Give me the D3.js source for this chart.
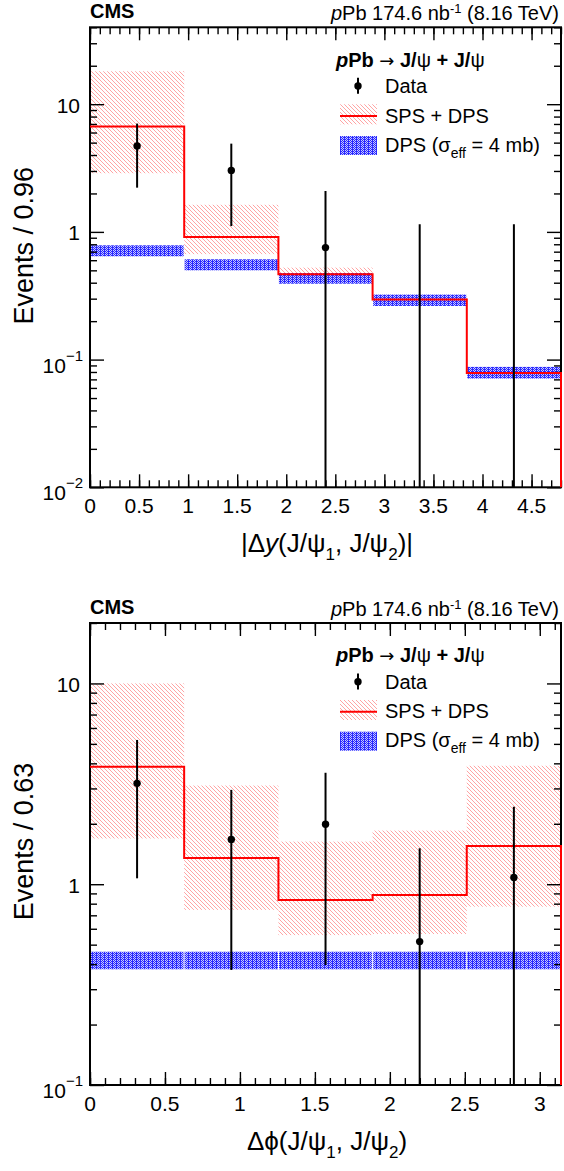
<!DOCTYPE html>
<html><head><meta charset="utf-8">
<script src="https://cdn.jsdelivr.net/npm/d3@7"></script>
<style>
body{margin:0;background:#fff}
text{font-family:"Liberation Sans",Arial,Helvetica,sans-serif;fill:#000}
</style>
</head><body>
<svg id="c" width="564" height="1171"></svg>
<script>
// ---------- data: |Δy| panel ----------
const dyEdges      = [0, 0.96, 1.92, 2.88, 3.84, 4.8];
const dySpsDps     = [6.7, 0.91, 0.466, 0.295, 0.0785];
const dySpsDpsLo   = [2.88, 0.67, 0.45, 0.285, 0.076];
const dySpsDpsHi   = [18.1, 1.63, 0.525, 0.31, 0.083];
const dyDpsLo      = [0.644, 0.50, 0.393, 0.263, 0.0711];
const dyDpsHi      = [0.785, 0.61, 0.476, 0.323, 0.0877];
const dyData       = [4.71, 3.03, 0.753, 0, 0];
const dyDataLo     = [2.22, 1.11, 0, 0, 0];
const dyDataHi     = [7.05, 4.91, 2.09, 1.15, 1.15];
const dyXTicks     = [0, 0.5, 1, 1.5, 2, 2.5, 3, 3.5, 4, 4.5];
const dyXTickLabels= ["0","0.5","1","1.5","2","2.5","3","3.5","4","4.5"];
const dyYDecades   = [0.01, 0.1, 1, 10];

// ---------- data: Δφ panel ----------
const dphiEdges    = [0, 0.628, 1.257, 1.885, 2.513, 3.1416];
const dphiSpsDps   = [3.85, 1.35, 0.834, 0.883, 1.55];
const dphiSpsDpsLo = [1.69, 0.745, 0.558, 0.565, 0.773];
const dphiSpsDpsHi = [10.0, 3.10, 1.63, 1.85, 3.89];
const dphiDpsLo    = [0.377, 0.377, 0.377, 0.377, 0.377];
const dphiDpsHi    = [0.461, 0.461, 0.461, 0.461, 0.461];
const dphiData     = [3.18, 1.67, 1.99, 0.518, 1.08];
const dphiDataLo   = [1.07, 0.374, 0.396, 0, 0];
const dphiDataHi   = [5.23, 2.95, 3.59, 1.51, 2.43];
const dphiXTicks   = [0, 0.5, 1, 1.5, 2, 2.5, 3];
const dphiXTickLabels = ["0","0.5","1","1.5","2","2.5","3"];
const dphiYDecades = [0.1, 1, 10];

const svg = d3.select("#c");
const defs = svg.append("defs");
const hatch = defs.append("pattern").attr("id","hatch")
  .attr("patternUnits","userSpaceOnUse").attr("width",4).attr("height",4);
hatch.append("path").attr("d","M-1,-1 L5,5 M-1,3 L1,5 M3,-1 L5,1")
  .attr("stroke","#ff9a9a").attr("stroke-width",0.9).attr("fill","none");
const dots = defs.append("pattern").attr("id","dots")
  .attr("patternUnits","userSpaceOnUse").attr("width",4).attr("height",2);
dots.append("rect").attr("width",4).attr("height",2).attr("fill","#c6c6ff");
[[0,0,1,2],[2,0,1,1],[1,1,1,1],[3,1,1,1]].forEach(r=>{
  dots.append("rect").attr("x",r[0]).attr("y",r[1]).attr("width",r[2]).attr("height",r[3])
    .attr("fill","#2a2aff").attr("shape-rendering","crispEdges");
});

const L = 90, R = 561;

function panel(cfg){
  const T = cfg.top, B = cfg.bottom;
  const g = svg.append("g");
  const x = d3.scaleLinear().domain([0, cfg.xMax]).range([L, R]);
  const y = d3.scaleLog().domain(cfg.yDomain).range([B, T]);
  const n = cfg.vals.length;
  const idx = d3.range(n);

  // SPS+DPS hatched band
  g.append("g").selectAll("rect").data(idx).join("rect")
    .attr("x", i=>x(cfg.edges[i])).attr("width", i=>x(cfg.edges[i+1])-x(cfg.edges[i]))
    .attr("y", i=>y(cfg.hi[i])).attr("height", i=>y(cfg.lo[i])-y(cfg.hi[i]))
    .attr("fill","url(#hatch)");
  // DPS band
  g.append("g").selectAll("rect").data(idx).join("rect")
    .attr("x", i=>x(cfg.edges[i])+0.5).attr("width", i=>x(cfg.edges[i+1])-x(cfg.edges[i])-1)
    .attr("y", i=>y(cfg.dpsHi[i])).attr("height", i=>y(cfg.dpsLo[i])-y(cfg.dpsHi[i]))
    .attr("fill","url(#dots)");

  // frame
  g.append("rect").attr("x",L).attr("y",T).attr("width",R-L).attr("height",B-T)
    .attr("fill","none").attr("stroke","#000").attr("stroke-width",2);

  // ticks
  const minorX = d3.range(0, Math.round(cfg.xMax*10)+1).map(k=>k/10).filter(v=>v<=cfg.xMax);
  const minorY = [];
  cfg.decades.concat([cfg.decades[cfg.decades.length-1]*10]).forEach(d=>{
    for(let m=2;m<=9;m++){ const v=d*m; if(v>=cfg.yDomain[0] && v<=cfg.yDomain[1]*1.0001) minorY.push(v); }
  });
  function styleAxis(sel){
    sel.select(".domain").remove();
    sel.selectAll("line").attr("stroke","#000").attr("stroke-width",1.4);
    sel.selectAll("text").remove();
  }
  g.append("g").attr("transform",`translate(0,${B})`).call(d3.axisBottom(x).tickValues(cfg.xTicks).tickSize(-13).tickFormat("")).call(styleAxis);
  g.append("g").attr("transform",`translate(0,${B})`).call(d3.axisBottom(x).tickValues(minorX).tickSize(-7).tickFormat("")).call(styleAxis);
  g.append("g").attr("transform",`translate(0,${T})`).call(d3.axisTop(x).tickValues(cfg.xTicks).tickSize(-13).tickFormat("")).call(styleAxis);
  g.append("g").attr("transform",`translate(0,${T})`).call(d3.axisTop(x).tickValues(minorX).tickSize(-7).tickFormat("")).call(styleAxis);
  g.append("g").attr("transform",`translate(${L},0)`).call(d3.axisLeft(y).tickValues(cfg.decades).tickSize(-14).tickFormat("")).call(styleAxis);
  g.append("g").attr("transform",`translate(${L},0)`).call(d3.axisLeft(y).tickValues(minorY).tickSize(-7).tickFormat("")).call(styleAxis);
  g.append("g").attr("transform",`translate(${R},0)`).call(d3.axisRight(y).tickValues(cfg.decades).tickSize(-14).tickFormat("")).call(styleAxis);
  g.append("g").attr("transform",`translate(${R},0)`).call(d3.axisRight(y).tickValues(minorY).tickSize(-7).tickFormat("")).call(styleAxis);

  // SPS+DPS line
  let d = `M${x(cfg.edges[0])},${y(cfg.vals[0])}`;
  for(let i=0;i<n;i++){
    d += ` V${y(cfg.vals[i])} H${x(cfg.edges[i+1])}`;
  }
  d += ` V${B}`;
  g.append("path").attr("d",d).attr("fill","none").attr("stroke","#ff0000").attr("stroke-width",2);

  // data
  const yMinPix = B;
  g.append("g").selectAll("line").data(idx).join("line")
    .attr("x1", i=>x((cfg.edges[i]+cfg.edges[i+1])/2)).attr("x2", i=>x((cfg.edges[i]+cfg.edges[i+1])/2))
    .attr("y1", i=>y(cfg.dHi[i]))
    .attr("y2", i=>cfg.dLo[i]>0 ? y(cfg.dLo[i]) : yMinPix)
    .attr("stroke","#000").attr("stroke-width",2);
  g.append("g").selectAll("circle").data(idx.filter(i=>cfg.data[i]>0)).join("circle")
    .attr("cx", i=>x((cfg.edges[i]+cfg.edges[i+1])/2)).attr("cy", i=>y(cfg.data[i]))
    .attr("r",3.7).attr("fill","#000");

  // x tick labels
  g.append("g").selectAll("text").data(cfg.xTicks).join("text")
    .attr("x", v=>x(v)).attr("y", B+26).attr("text-anchor","middle")
    .attr("font-size",21).text((v,i)=>cfg.xTickLabels[i]);
  // y tick labels
  cfg.decades.forEach(v=>{
    const e = Math.round(Math.log10(v));
    if(e>=0){
      g.append("text").attr("x",80).attr("y",y(v)+8.5).attr("text-anchor","end")
        .attr("font-size",21).text(e===0?"1":"1"+"0".repeat(e));
    } else {
      const t = g.append("text").attr("x",83).attr("y",y(v)+13).attr("text-anchor","end").attr("font-size",21);
      t.append("tspan").text("10");
      t.append("tspan").attr("font-size",15).attr("dy",-12).text("\u2212"+(-e));
    }
  });

  // axis titles
  g.append("text").attr("transform",`translate(33,${T+218.5}) rotate(-90)`)
    .attr("text-anchor","middle").attr("font-size",27).text(cfg.yTitle);
  const xt = g.append("text").attr("x",327).attr("y",B+65).attr("text-anchor","middle").attr("font-size",26);
  cfg.xTitle(xt);

  // header
  g.append("text").attr("x",L).attr("y",T-9).attr("font-size",20).attr("font-weight","bold").text("CMS");
  const h = g.append("text").attr("x",559).attr("y",T-7.5).attr("text-anchor","end").attr("font-size",20);
  h.append("tspan").attr("font-style","italic").text("p");
  h.append("tspan").text("Pb 174.6 nb");
  h.append("tspan").attr("font-size",13).attr("dy",-6.5).text("-1");
  h.append("tspan").attr("dy",6.5).text(" (8.16 TeV)");

  // legend
  const lg = g.append("g");
  const lh = lg.append("text").attr("x",336).attr("y",T+39.4).attr("font-size",20);
  lh.append("tspan").attr("font-weight","bold").attr("font-style","italic").text("p");
  lh.append("tspan").attr("font-weight","bold").text("Pb ");
  lh.append("tspan").attr("style","font-family:'DejaVu Sans'").attr("font-size",18).text("\u2192");
  lh.append("tspan").attr("font-weight","bold").text(" J/");
  lh.append("tspan").text("\u03C8");
  lh.append("tspan").attr("font-weight","bold").text(" + J/");
  lh.append("tspan").text("\u03C8");

  lg.append("line").attr("x1",358).attr("x2",358).attr("y1",T+50.5).attr("y2",T+66.5)
    .attr("stroke","#000").attr("stroke-width",2);
  lg.append("circle").attr("cx",358).attr("cy",T+58.7).attr("r",3.7).attr("fill","#000");
  lg.append("text").attr("x",385).attr("y",T+66).attr("font-size",20).text("Data");

  lg.append("rect").attr("x",340).attr("y",T+77).attr("width",37).attr("height",20).attr("fill","url(#hatch)");
  lg.append("line").attr("x1",340).attr("x2",377).attr("y1",T+88.7).attr("y2",T+88.7)
    .attr("stroke","#ff0000").attr("stroke-width",2);
  lg.append("text").attr("x",385).attr("y",T+95.4).attr("font-size",20).text("SPS + DPS");

  lg.append("rect").attr("x",340).attr("y",T+108.7).attr("width",37).attr("height",19).attr("fill","url(#dots)");
  const dl = lg.append("text").attr("x",385).attr("y",T+124.4).attr("font-size",20);
  dl.append("tspan").text("DPS (\u03C3");
  dl.append("tspan").attr("font-size",14).attr("dy",6).text("eff");
  dl.append("tspan").attr("dy",-6).text(" = 4 mb)");
}

panel({
  top: 27.3, bottom: 487.3, xMax: 4.8, yDomain: [0.01, 40],
  edges: dyEdges, vals: dySpsDps, lo: dySpsDpsLo, hi: dySpsDpsHi,
  dpsLo: dyDpsLo, dpsHi: dyDpsHi, data: dyData, dLo: dyDataLo, dHi: dyDataHi,
  xTicks: dyXTicks, xTickLabels: dyXTickLabels, decades: dyYDecades,
  yTitle: "Events / 0.96",
  xTitle: t=>{
    t.append("tspan").text("|\u0394");
    t.append("tspan").attr("font-style","italic").text("y");
    t.append("tspan").text("(J/\u03C8");
    t.append("tspan").attr("font-size",17).attr("dy",8).text("1");
    t.append("tspan").attr("dy",-8).text(", J/\u03C8");
    t.append("tspan").attr("font-size",17).attr("dy",8).text("2");
    t.append("tspan").attr("dy",-8).text(")|");
  }
});

panel({
  top: 623, bottom: 1085, xMax: 3.1416, yDomain: [0.1, 20],
  edges: dphiEdges, vals: dphiSpsDps, lo: dphiSpsDpsLo, hi: dphiSpsDpsHi,
  dpsLo: dphiDpsLo, dpsHi: dphiDpsHi, data: dphiData, dLo: dphiDataLo, dHi: dphiDataHi,
  xTicks: dphiXTicks, xTickLabels: dphiXTickLabels, decades: dphiYDecades,
  yTitle: "Events / 0.63",
  xTitle: t=>{
    t.append("tspan").text("\u0394\u03D5(J/\u03C8");
    t.append("tspan").attr("font-size",17).attr("dy",8).text("1");
    t.append("tspan").attr("dy",-8).text(", J/\u03C8");
    t.append("tspan").attr("font-size",17).attr("dy",8).text("2");
    t.append("tspan").attr("dy",-8).text(")");
  }
});
</script>
</body></html>
